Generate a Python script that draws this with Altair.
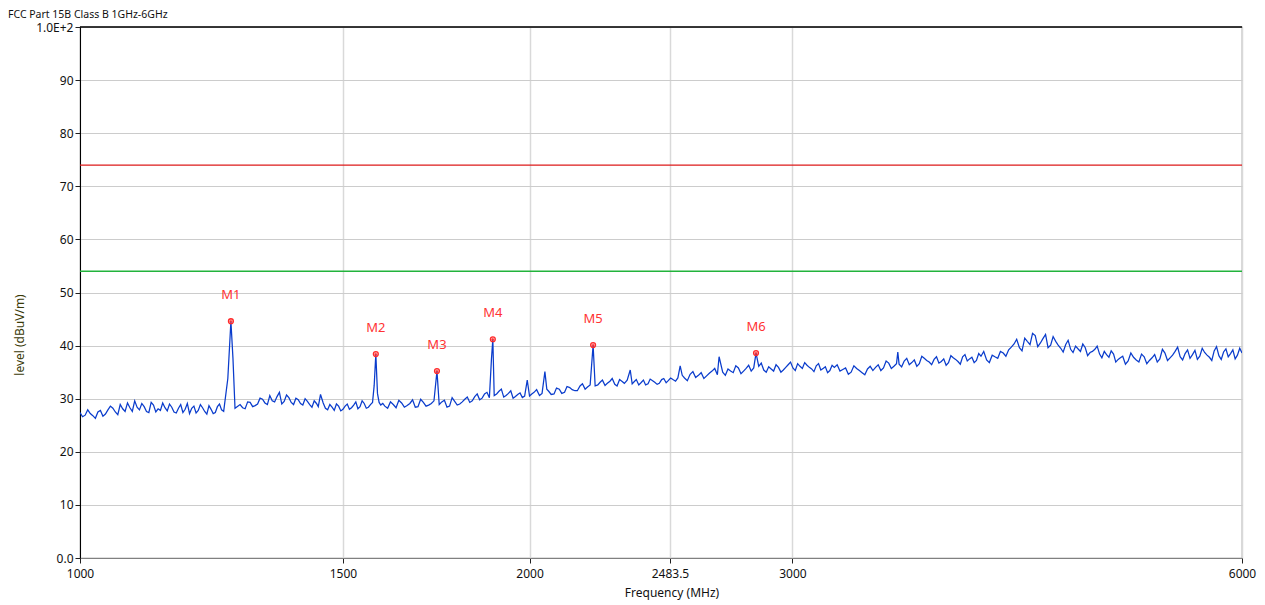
import altair as alt
import pandas as pd

TITLE = "FCC Part 15B  Class B 1GHz-6GHz"
X_TITLE = "Frequency (MHz)"
Y_TITLE = "level (dBuV/m)"

X_TICKS = [1000, 1500, 2000, 2483.5, 3000, 6000]
Y_TICKS = [0, 10, 20, 30, 40, 50, 60, 70, 80, 90, 100]

LIMIT_PEAK = 74
LIMIT_AVG = 54

# measured trace, first sweep pass (MHz)
FREQ = [
    1000, 1008, 1016, 1024, 1032, 1040, 1048, 1056, 1064, 1072, 1080, 1088, 1096, 1104, 1112, 1120,
    1128, 1136, 1144, 1152, 1160, 1168, 1176, 1184, 1192, 1200, 1208, 1216, 1224, 1232, 1240, 1248,
    1256, 1262, 1266, 1270,
    1280, 1290, 1300, 1310, 1320, 1330, 1340, 1350, 1360, 1370, 1380, 1390, 1400, 1410, 1420, 1430,
    1440, 1449, 1460, 1470, 1480, 1490, 1500, 1510, 1520, 1530, 1540, 1550, 1560, 1570, 1574, 1578,
    1582, 1590,
    1600, 1614, 1628, 1642, 1656, 1670, 1684, 1698, 1712, 1726, 1734, 1740, 1754, 1768, 1782, 1796,
    1810, 1824, 1838, 1852, 1866, 1880, 1886, 1890, 1894, 1908, 1922, 1936, 1950, 1964, 1978, 1993,
    2000,
    2014, 2031, 2048, 2060, 2077, 2094, 2111, 2128, 2145, 2162, 2179, 2196, 2206, 2213, 2230, 2247,
    2264, 2281, 2298, 2315, 2336, 2350, 2367, 2384, 2401, 2418, 2435, 2452, 2469, 2486,
    2505, 2523, 2540, 2562, 2584, 2606, 2628, 2650, 2672, 2679, 2694, 2716, 2738, 2760, 2782, 2804,
    2826, 2836, 2848, 2870, 2892, 2914, 2936, 2958, 2980, 3002, 3024, 3046, 3068, 3090, 3112, 3134,
    3156, 3178,
    3200, 3228, 3256, 3284, 3312, 3340, 3368, 3396, 3424, 3452, 3480, 3508, 3529, 3536, 3564, 3592,
    3620, 3648, 3676, 3704, 3732, 3760, 3788, 3816, 3844, 3872, 3900, 3928, 3956, 3984,
    4012, 4047, 4082, 4117, 4152, 4187, 4222, 4257, 4292, 4327, 4362, 4397, 4432, 4467, 4502, 4537,
    4572, 4607, 4642, 4677, 4712, 4747, 4782, 4817, 4852, 4887, 4922, 4957,
    4992, 5034, 5076, 5118, 5160, 5202, 5244, 5286, 5328, 5370, 5412, 5454, 5496, 5538, 5580, 5622,
    5664, 5706, 5748, 5790, 5832, 5874, 5916, 5958, 6000,
]

# measured level, first sweep pass (dBuV/m)
LEVEL = [
    27.4, 26.9, 27.2, 26.3, 27.8, 27.1, 28.6, 27.5, 28.9, 27.6, 28.3, 29.6, 27.9, 28.5, 27.4, 28.8,
    28.1, 29.2, 27.7, 28.4, 27.3, 28.9, 28.0, 27.2, 28.6, 27.8, 28.3, 27.1, 28.0, 27.4, 29.0, 27.6,
    33.8, 44.6, 37.6, 28.2,
    28.9, 28.1, 29.3, 28.7, 30.1, 29.2, 30.6, 29.4, 31.2, 29.5, 30.2, 28.9, 29.8, 28.8, 29.5, 28.4,
    29.1, 30.8, 28.2, 28.9, 27.8, 28.6, 28.0, 29.0, 28.3, 29.4, 28.5, 29.1, 28.4, 29.3, 32.5, 38.4,
    31.0, 28.8,
    28.6, 29.4, 28.3, 29.2, 28.7, 29.8, 28.5, 29.3, 28.8, 29.6, 35.2, 28.9, 29.7, 28.6, 29.5, 29.0,
    29.9, 29.3, 30.4, 29.8, 30.9, 30.2, 37.5, 41.2, 30.6, 31.4, 30.3, 31.0, 30.1, 30.8, 30.2, 33.5,
    30.5,
    31.2, 30.6, 35.1, 31.4, 30.9, 31.8, 31.2, 32.1, 31.5, 32.4, 31.8, 32.6, 40.1, 32.4, 33.1, 32.5,
    33.3, 32.7, 33.6, 32.9, 35.4, 33.2, 32.6, 33.5, 32.8, 33.4, 32.7, 33.6, 33.0, 33.9,
    33.3, 36.2, 33.9, 34.6, 34.0, 34.9, 34.3, 35.2, 34.5, 37.9, 35.0, 35.6, 34.9, 35.8, 35.2, 36.3,
    35.8, 38.6, 36.1, 35.4, 36.0, 35.2, 35.9, 35.4, 36.4, 35.8, 36.6, 35.7, 36.3, 35.6, 36.2, 35.4,
    36.0, 35.3,
    35.9, 35.2, 35.8, 35.0, 35.7, 34.9, 35.6, 35.3, 36.4, 35.8, 36.7, 36.1, 38.8, 36.5, 37.1, 36.4,
    37.3, 36.6, 37.6, 36.9, 37.4, 36.7, 37.5, 36.8, 37.7, 37.0, 37.9, 37.1, 37.8, 37.2,
    38.0, 37.3, 38.2, 37.6, 38.6, 39.2, 40.3, 39.6, 41.4, 40.2, 41.9, 40.5, 42.1, 40.1, 40.8, 39.5,
    40.2, 39.3, 39.9, 38.9, 39.6, 38.7, 39.3, 38.4, 38.9, 37.8, 38.4, 37.4,
    38.0, 37.1, 37.8, 36.9, 37.9, 37.2, 38.3, 37.5, 38.6, 37.7, 38.9, 37.9, 38.5, 37.6, 39.1, 38.0,
    38.7, 37.8, 39.0, 38.1, 38.8, 37.9, 39.2, 38.2, 38.6,
]

# measured trace, in-between sweep points (MHz)
FREQ_MID = [
    1004, 1012, 1020, 1028, 1036, 1044, 1052, 1060, 1068, 1076, 1084, 1092, 1100, 1108, 1116, 1124,
    1132, 1140, 1148, 1156, 1164, 1172, 1180, 1188, 1196, 1204, 1212, 1220, 1228, 1236, 1244,
    1285, 1295, 1305, 1315, 1325, 1335, 1345, 1355, 1365, 1375, 1385, 1395, 1405, 1415, 1425, 1435,
    1444, 1455, 1465, 1475, 1485, 1495, 1505, 1515, 1525, 1535, 1545, 1555, 1565, 1586, 1595,
    1607, 1621, 1635, 1649, 1663, 1677, 1691, 1705, 1719, 1747, 1761, 1775, 1789, 1803, 1817, 1831,
    1845, 1859, 1873, 1901, 1915, 1929, 1943, 1957, 1971, 1985,
    2007, 2022, 2039, 2054, 2068, 2085, 2102, 2119, 2136, 2153, 2170, 2187, 2222, 2238, 2255, 2272,
    2289, 2306, 2325, 2343, 2358, 2375, 2392, 2409, 2426, 2443, 2460, 2477, 2495,
    2514, 2531, 2551, 2573, 2595, 2617, 2639, 2661, 2705, 2727, 2749, 2771, 2793, 2815, 2859, 2881,
    2903, 2925, 2947, 2969, 2991, 3013, 3035, 3057, 3079, 3101, 3123, 3145, 3167, 3189,
    3214, 3242, 3270, 3298, 3326, 3354, 3382, 3410, 3438, 3466, 3494, 3522, 3550, 3578, 3606, 3634,
    3662, 3690, 3718, 3746, 3774, 3802, 3830, 3858, 3886, 3914, 3942, 3970, 3998,
    4029, 4064, 4099, 4134, 4169, 4204, 4239, 4274, 4309, 4344, 4379, 4414, 4449, 4484, 4519, 4554,
    4589, 4624, 4659, 4694, 4729, 4764, 4799, 4834, 4869, 4904, 4939, 4974,
    5013, 5055, 5097, 5139, 5181, 5223, 5265, 5307, 5349, 5391, 5433, 5475, 5517, 5559, 5601, 5643,
    5685, 5727, 5769, 5811, 5853, 5895, 5937, 5979,
]

# measured level, in-between sweep points (dBuV/m)
LEVEL_MID = [
    26.6, 27.9, 26.8, 27.5, 26.7, 27.9, 28.2, 27.0, 28.1, 29.2, 27.6, 28.4, 29.1, 27.6, 29.3, 27.5,
    27.8, 28.3, 29.0, 27.5, 28.2, 27.4, 29.1, 28.2, 27.3, 28.9, 27.6, 28.7, 27.2, 28.5, 27.9,
    28.3, 29.4, 28.5, 29.0, 29.9, 28.9, 29.6, 30.4, 29.0, 30.7, 29.3, 30.1, 29.1, 30.0, 28.9, 29.6,
    28.5, 29.2, 27.9, 28.4, 29.0, 27.7, 28.6, 28.0, 28.8, 28.1, 29.6, 28.2, 28.9, 29.3, 29.1,
    28.2, 28.9, 29.7, 28.4, 29.1, 28.4, 29.9, 28.6, 29.1, 29.4, 28.4, 30.2, 28.8, 29.4, 30.3, 29.6,
    30.9, 30.1, 31.2, 30.9, 31.8, 30.6, 31.5, 30.4, 31.1, 30.5,
    30.9, 31.7, 31.0, 31.8, 30.8, 32.0, 31.0, 32.3, 31.7, 31.5, 32.8, 32.2, 32.6, 33.5, 32.9, 33.8,
    32.4, 33.3, 33.5, 32.8, 33.6, 33.0, 32.6, 33.7, 33.1, 32.9, 33.8, 33.4, 33.6,
    33.9, 34.4, 33.4, 35.1, 34.4, 33.8, 34.8, 35.7, 34.4, 35.2, 36.2, 34.7, 35.7, 35.2, 36.7, 35.0,
    35.6, 36.4, 35.0, 35.9, 36.9, 35.3, 36.1, 36.8, 35.9, 35.1, 36.6, 35.7, 34.9, 36.3,
    36.4, 35.5, 34.6, 36.2, 35.3, 34.5, 36.1, 35.9, 35.3, 37.1, 35.7, 36.6, 36.0, 37.6, 36.8, 36.1,
    38.0, 37.2, 36.4, 37.9, 37.0, 36.3, 38.1, 37.4, 36.5, 38.3, 37.5, 36.8, 38.5,
    38.9, 36.8, 37.9, 38.9, 38.0, 39.7, 41.2, 39.0, 40.8, 42.3, 39.8, 41.3, 39.6, 41.7, 40.1, 38.8,
    41.0, 38.7, 39.4, 40.3, 38.1, 38.9, 39.9, 37.7, 38.3, 39.0, 36.9, 37.7,
    36.5, 38.6, 37.3, 38.4, 36.6, 37.7, 36.9, 39.3, 37.2, 38.2, 39.7, 37.3, 39.2, 38.3, 37.4, 39.5,
    38.2, 37.2, 39.8, 37.4, 39.4, 38.5, 37.5, 39.5,
]

MARKER_NAMES = ["M1", "M2", "M3", "M4", "M5", "M6"]
MARKER_FREQ = [1262, 1578, 1734, 1890, 2206, 2836]
MARKER_LEVEL = [44.6, 38.4, 35.2, 41.2, 40.1, 38.6]

FONT = "Noto Sans"

trace = pd.DataFrame({"freq": FREQ + FREQ_MID, "level": LEVEL + LEVEL_MID}).sort_values("freq")
markers = pd.DataFrame({"name": MARKER_NAMES, "freq": MARKER_FREQ, "level": MARKER_LEVEL})
limits = pd.DataFrame({"limit": [LIMIT_PEAK, LIMIT_AVG], "kind": ["peak", "avg"]})

x_scale = alt.Scale(type="log", domain=[1000, 6000], nice=False)
y_scale = alt.Scale(domain=[0, 100], nice=False)

x_axis = alt.Axis(
    title=None, values=X_TICKS, grid=True, gridColor="#d9d9d9", gridWidth=1.5,
    domainColor="#808080", tickColor="#202020", tickSize=5, labelPadding=5,
    labelFontSize=12, labelFont=FONT, labelColor="#111111",
    labelExpr="datum.value == 2483.5 ? '2483.5' : format(datum.value, 'd')",
    labelFlush=False, labelOverlap=False,
)
y_axis = alt.Axis(
    title=None, values=Y_TICKS, grid=True, gridColor="#cccccc", gridWidth=1,
    domainColor="#000000", tickColor="#202020", tickSize=5, labelPadding=2,
    labelFontSize=12, labelFont=FONT, labelColor="#111111",
    labelExpr="datum.value == 0 ? '0.0' : (datum.value == 100 ? '1.0E+2' : toString(datum.value))",
    labelFlush=False, labelOverlap=False,
)

line = alt.Chart(trace).mark_line(color="#0a3ccc", strokeWidth=1.25, clip=True).encode(
    x=alt.X("freq:Q", scale=x_scale, axis=x_axis),
    y=alt.Y("level:Q", scale=y_scale, axis=y_axis),
)

limit_lines = alt.Chart(limits).mark_rule(strokeWidth=1.3).encode(
    y=alt.Y("limit:Q", scale=y_scale),
    color=alt.Color("kind:N", scale=alt.Scale(domain=["peak", "avg"], range=["#dd1a1a", "#22b33c"]), legend=None),
)

top_border = alt.Chart(pd.DataFrame({"t": [100]})).mark_rule(color="#000000", strokeWidth=1.5).encode(
    y=alt.Y("t:Q", scale=y_scale)
)

marker_circles = alt.Chart(markers).mark_point(
    shape="circle", size=24, filled=False, color="#ff2a2a", strokeWidth=1.3, opacity=1
).encode(x=alt.X("freq:Q", scale=x_scale), y=alt.Y("level:Q", scale=y_scale))

marker_cross = alt.Chart(markers).mark_point(
    shape="M-1,0L1,0M0,-1L0,1", size=12, filled=False, color="#ff2a2a", strokeWidth=1, opacity=1
).encode(x=alt.X("freq:Q", scale=x_scale), y=alt.Y("level:Q", scale=y_scale))

marker_labels = alt.Chart(markers).mark_text(
    dy=-26, color="#ff3333", fontSize=13, font=FONT
).encode(x=alt.X("freq:Q", scale=x_scale), y=alt.Y("level:Q", scale=y_scale), text="name:N")

title_text = alt.Chart(pd.DataFrame({"t": [TITLE]})).mark_text(
    align="left", baseline="middle", fontSize=10.5, font=FONT, color="#111111"
).encode(x=alt.value(-72), y=alt.value(-12), text="t:N")

x_title = alt.Chart(pd.DataFrame({"t": [X_TITLE]})).mark_text(
    align="center", baseline="middle", fontSize=12, font=FONT, color="#111111"
).encode(x=alt.value(592), y=alt.value(566), text="t:N")

y_title = alt.Chart(pd.DataFrame({"t": [Y_TITLE]})).mark_text(
    align="center", baseline="middle", fontSize=12, font=FONT, color="#3a3a08", angle=270
).encode(x=alt.value(-60), y=alt.value(308), text="t:N")

chart = alt.layer(
    line, limit_lines, top_border, marker_circles, marker_cross, marker_labels,
    title_text, x_title, y_title,
).properties(
    width=1162, height=531,
    autosize=alt.AutoSizeParams(type="none"),
    padding={"left": 72, "top": 19, "right": 15, "bottom": 46},
    background="#ffffff",
).configure_view(stroke="#808080", strokeWidth=1.2)

chart.save("out.html", embed_options={"renderer": "svg", "actions": False})
